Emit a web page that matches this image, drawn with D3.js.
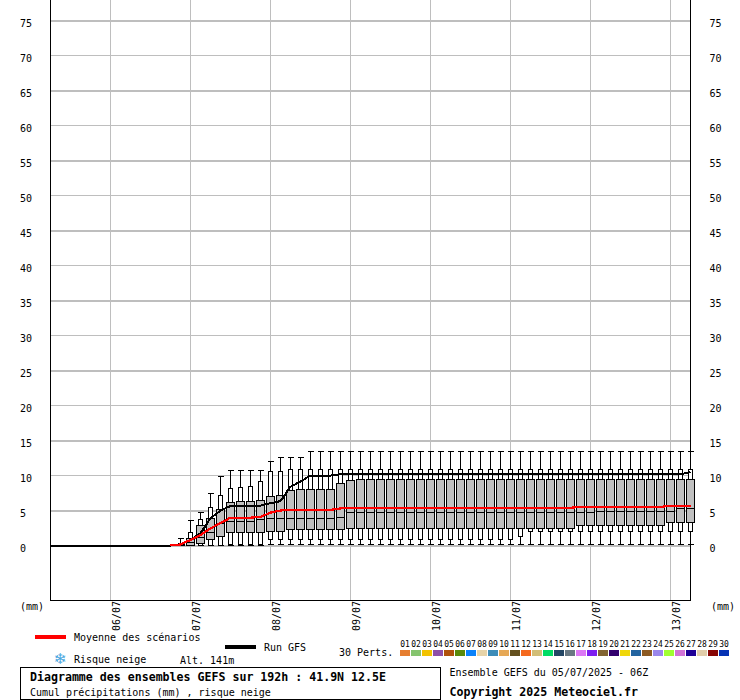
<!DOCTYPE html>
<html>
<head>
<meta charset="utf-8">
<script src="https://cdn.jsdelivr.net/npm/d3@7"></script>
<style>
html,body{margin:0;padding:0;background:#fff}
svg{display:block}
text{font-family:"DejaVu Sans Mono","Liberation Mono",monospace;font-size:10px;fill:#000}
.bold{font-weight:bold;font-size:11.6px}
</style>
</head>
<body>
<svg id="c" width="740" height="700"></svg>
<script>
const yTicks=[0,5,10,15,20,25,30,35,40,45,50,55,60,65,70,75];
const dayHours=[18,42,66,90,114,138,162,186];
const dayLabels=["06/07","07/07","08/07","09/07","10/07","11/07","12/07","13/07"];

const lineHours=[0,3,6,9,12,15,18,21,24,27,30,33,36,39,42,45,48,51,54,57,60,63,66,69,72,75,78,81,84,87,90,93,96,99,102,105,108,111,114,117,120,123,126,129,132,135,138,141,144,147,150,153,156,159,162,165,168,171,174,177,180,183,186,189,192];
const runGFS=[0,0,0,0,0,0,0,0,0,0,0,0,0,.2,.8,1.75,3.9,5,5.65,5.7,5.7,5.7,6.05,6.35,8.4,9.15,10,10,10,10.2,10.2,10.2,10.2,10.2,10.2,10.2,10.2,10.2,10.2,10.2,10.2,10.2,10.2,10.2,10.2,10.2,10.2,10.2,10.2,10.2,10.2,10.2,10.2,10.2,10.2,10.2,10.2,10.2,10.2,10.2,10.2,10.2,10.2,10.2,10.5];
const meanRun=[null,null,null,null,null,null,null,null,null,null,null,null,0,.15,.8,1.5,2.45,3.2,3.98,3.98,3.98,4.1,4.7,5,5.1,5.1,5.1,5.1,5.1,5.3,5.35,5.4,5.4,5.4,5.4,5.4,5.4,5.4,5.4,5.4,5.4,5.4,5.4,5.4,5.4,5.4,5.4,5.4,5.4,5.4,5.4,5.4,5.4,5.5,5.5,5.5,5.5,5.5,5.5,5.5,5.5,5.5,5.7,5.7,5.7];

const boxHours=[39,42,45,48,51,54,57,60,63,66,69,72,75,78,81,84,87,90,93,96,99,102,105,108,111,114,117,120,123,126,129,132,135,138,141,144,147,150,153,156,159,162,165,168,171,174,177,180,183,186,189,192];
const pMax=[1,3.6,4.75,7.45,9.9,10.7,10.7,10.7,10.7,12,12.6,12.6,12.6,13.5,13.5,13.5,13.5,13.5,13.5,13.5,13.5,13.5,13.5,13.5,13.5,13.5,13.5,13.5,13.5,13.5,13.5,13.5,13.5,13.5,13.5,13.5,13.5,13.5,13.5,13.5,13.5,13.5,13.5,13.5,13.5,13.5,13.5,13.5,13.5,13.5,13.5,13.5];
const p90=[.3,1.83,3.65,5.45,7.1,8.2,8.3,8.45,9.2,10.6,10.6,10.9,10.9,10.9,10.9,10.9,10.9,10.9,10.9,10.9,10.9,10.9,10.9,10.9,10.9,10.9,10.9,10.9,10.9,10.9,10.9,10.9,10.9,10.9,10.9,10.9,10.9,10.9,10.9,10.9,10.9,10.9,10.9,10.9,10.9,10.9,10.9,10.9,10.9,10.9,10.9,10.9];
const q75=[.15,1,2.8,3.9,5.2,6.2,6.3,6.3,6.45,7.05,7.2,7.9,8.05,8.05,8.05,8.05,8.9,9.3,9.4,9.4,9.4,9.4,9.4,9.4,9.4,9.4,9.4,9.4,9.4,9.4,9.4,9.4,9.4,9.4,9.4,9.4,9.4,9.4,9.4,9.4,9.4,9.4,9.4,9.4,9.4,9.4,9.4,9.4,9.4,9.4,9.4,9.4];
const median=[.05,.45,1.15,1.85,3.2,3.4,3.4,3.4,3.75,3.9,3.9,3.9,3.9,3.9,3.9,3.9,4.05,4.75,4.75,4.75,4.75,4.75,4.75,4.75,4.75,4.75,4.75,4.75,4.75,4.75,4.75,4.75,4.75,4.75,4.75,4.75,4.75,4.75,4.75,4.75,4.75,4.75,4.9,4.9,4.9,4.9,4.9,4.9,4.9,4.9,5.3,5.3];
const q25=[0,.05,.3,.9,1.3,1.9,1.9,1.9,1.9,2,2,2.3,2.3,2.3,2.3,2.3,2.3,2.45,2.45,2.45,2.45,2.45,2.45,2.45,2.45,2.45,2.45,2.45,2.45,2.45,2.45,2.45,2.45,2.45,2.45,2.45,2.45,2.45,2.45,2.45,2.9,2.9,2.9,2.9,2.9,2.9,2.9,2.9,2.9,3.3,3.3,3.3];
const p10=[0,0,.03,.05,.05,.1,.1,.2,.2,.9,.9,.9,.9,.85,.85,.85,.85,.85,.85,.85,.85,.85,.85,.85,.85,.85,.85,.85,.85,.85,.85,.85,.85,.85,1.3,2,2,2,2,2,2,2,2,2,2,2,2,2,2,2,2,2];
const pMin=[0,0,0,0,0,0,0,0,0,.15,.15,.15,.15,.15,.15,.15,.15,.15,.15,.15,.15,.15,.15,.15,.15,.15,.15,.15,.15,.15,.15,.15,.15,.15,.15,.15,.15,.15,.15,.15,.15,.15,.15,.15,.15,.15,.15,.15,.15,.15,.15,.15];

const pertLabels=["01","02","03","04","05","06","07","08","09","10","11","12","13","14","15","16","17","18","19","20","21","22","23","24","25","26","27","28","29","30"];
const pertColors=["#e67e30","#85c46e","#f2c300","#8e50a8","#b0520c","#5a8a0a","#0a82fa","#e6d3a8","#3d8cb8","#e6a855","#64501e","#f5691e","#d2be78","#00dc64","#234664","#697882","#dc78f5","#7d1ef0","#826432","#32006e","#f0d70a","#2364a0","#8c5a23","#9b87eb","#a0ff32","#d273d7","#1e0096","#e1cdaa","#870505","#0532b4"];

const svg=d3.select("#c");
const x=d3.scaleLinear().domain([0,192]).range([50.5,690.5]);
const y=d3.scaleLinear().domain([0,75]).range([545.5,21]);
const GRID="#bebebe";
const crisp=s=>s.attr("shape-rendering","crispEdges");

// horizontal grid + left labels
const gy=svg.append("g").attr("transform","translate(50.5,0)").call(d3.axisLeft(y).offset(0).tickValues(yTicks).tickSize(-640).tickFormat(d3.format("d")));
gy.select(".domain").remove();
gy.selectAll(".tick line").attr("stroke",GRID).attr("stroke-width",d=>(d===0||(d/5)%2===1)?2:1).call(crisp);
gy.selectAll(".tick text").attr("text-anchor","start").attr("x",-30.5).attr("y",6).attr("dy",0);

// right labels
const gr=svg.append("g").attr("transform","translate(690.5,0)").call(d3.axisRight(y).offset(0).tickValues(yTicks).tickSize(0).tickFormat(d3.format("d")));
gr.select(".domain").remove();
gr.selectAll(".tick text").attr("text-anchor","start").attr("x",19).attr("y",6).attr("dy",0);

// vertical grid + date labels
const gx=svg.append("g").attr("transform","translate(0,600)").call(d3.axisBottom(x).offset(0).tickValues(dayHours).tickSize(-600).tickFormat((d,i)=>dayLabels[i]));
gx.select(".domain").remove();
gx.selectAll(".tick line").attr("stroke",GRID).attr("stroke-width",1).call(crisp);
gx.selectAll(".tick text").attr("text-anchor","start").attr("x",0).attr("y",0).attr("dy",0).attr("transform","translate(9,31) rotate(-90)");

// frame
const frame=svg.append("g").attr("stroke","#000").attr("stroke-width",1).call(crisp);
frame.append("line").attr("x1",x(0)).attr("x2",x(0)).attr("y1",0).attr("y2",600.5);
frame.append("line").attr("x1",x(192)).attr("x2",x(192)).attr("y1",0).attr("y2",600.5);
frame.append("line").attr("x1",x(0)).attr("x2",x(192)).attr("y1",600.5).attr("y2",600.5);

// boxes
const rows=boxHours.map((h,i)=>({h,max:pMax[i],p90:p90[i],q75:q75[i],med:median[i],q25:q25[i],p10:p10[i],min:pMin[i]}));
const col=svg.append("g").selectAll("g").data(rows).join("g").attr("transform",d=>`translate(${x(d.h)},0)`).call(crisp);
col.append("line").attr("y1",d=>y(d.max)).attr("y2",d=>y(d.p90)).attr("stroke","#000");
col.append("line").attr("y1",d=>y(d.min)).attr("y2",d=>y(d.p10)).attr("stroke","#000");
col.append("line").attr("x1",-3).attr("x2",3).attr("y1",d=>y(d.max)).attr("y2",d=>y(d.max)).attr("stroke","#000");
col.append("line").attr("x1",-3).attr("x2",3).attr("y1",d=>y(d.min)).attr("y2",d=>y(d.min)).attr("stroke","#000");
col.append("rect").attr("x",-2).attr("width",4).attr("y",d=>y(d.p90)).attr("height",d=>y(d.q75)-y(d.p90)).attr("fill","#fff").attr("stroke","#000");
col.append("rect").attr("x",-2).attr("width",4).attr("y",d=>y(d.q25)).attr("height",d=>y(d.p10)-y(d.q25)).attr("fill","#fff").attr("stroke","#000");
col.append("rect").attr("x",-4).attr("width",8).attr("y",d=>y(d.q75)).attr("height",d=>y(d.q25)-y(d.q75)).attr("fill","#c0c0c0").attr("stroke","#000");
col.append("line").attr("x1",-4).attr("x2",4).attr("y1",d=>y(d.med)).attr("y2",d=>y(d.med)).attr("stroke","#000");

// lines
const line=d3.line().defined(d=>d[1]!==null).x(d=>x(d[0])).y(d=>y(d[1]));
svg.append("path").datum(lineHours.map((h,i)=>[h,runGFS[i]])).attr("d",line).attr("fill","none").attr("stroke","#000").attr("stroke-width",2).call(crisp);
svg.append("path").datum(lineHours.map((h,i)=>[h,meanRun[i]])).attr("d",line).attr("fill","none").attr("stroke","#f00").attr("stroke-width",2.2).call(crisp);

// legend
svg.append("rect").attr("x",35).attr("y",635).attr("width",31).attr("height",4).attr("fill","#f00");
svg.append("rect").attr("x",225).attr("y",645).attr("width",31).attr("height",4).attr("fill","#000");
const T=(tx,ty,s,c)=>svg.append("text").attr("x",tx).attr("y",ty).attr("class",c||null).text(s);
T(74,641,"Moyenne des scénarios");
T(264,651,"Run GFS");
T(74,663,"Risque neige");
T(180,664,"Alt. 141m");
T(339,656,"30 Perts.");
T(20,610,"(mm)").attr("opacity",0.999);
T(711,610,"(mm)").attr("opacity",0.999);
svg.append("text").attr("x",60).attr("y",664).attr("text-anchor","middle").style("font-family","'DejaVu Sans'").style("font-size","15px").style("fill","#4aa6e0").text("❄");

const perts=svg.append("g").selectAll("g").data(pertLabels).join("g").attr("transform",(d,i)=>`translate(${400+i*11},0)`);
perts.append("rect").attr("y",650).attr("width",10).attr("height",6).attr("fill",(d,i)=>pertColors[i]);
perts.append("text").attr("x",5).attr("y",647).attr("text-anchor","middle").style("font-size","8px").text(d=>d);

// title box
svg.append("rect").attr("x",20.5).attr("y",667.5).attr("width",420).attr("height",31.5).attr("fill","#fff").attr("stroke","#000").attr("stroke-width",1).call(crisp);
T(30,681,"Diagramme des ensembles GEFS sur 192h : 41.9N 12.5E","bold");
T(30,696,"Cumul précipitations (mm) , risque neige");
T(449.5,676,"Ensemble GEFS du 05/07/2025 - 06Z");
T(449.5,696,"Copyright 2025 Meteociel.fr","bold");
</script>
</body>
</html>
